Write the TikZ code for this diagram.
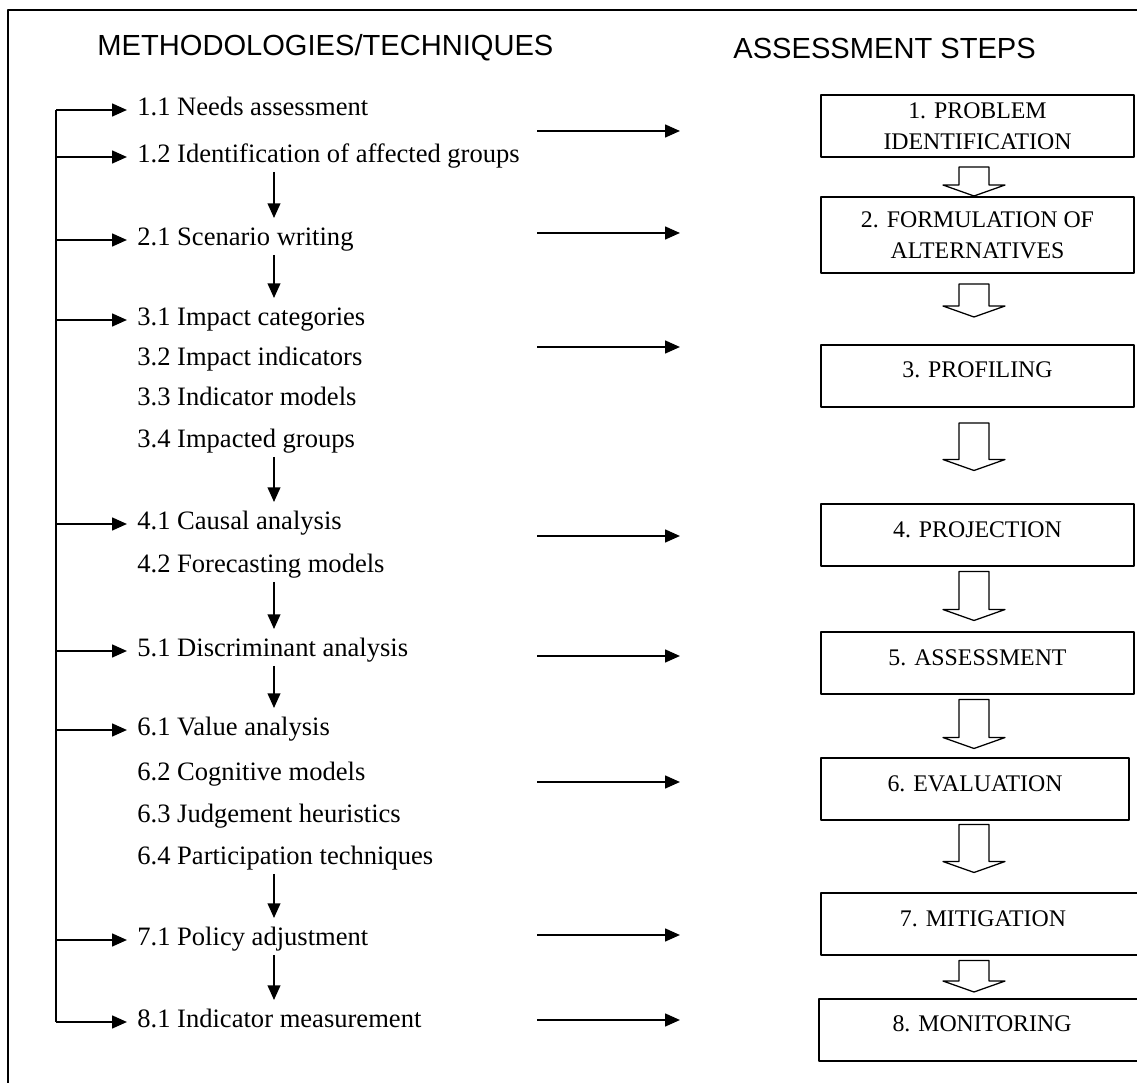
\documentclass[tikz,border=0pt]{standalone}
\usepackage{fontspec}
\setmainfont{Liberation Serif}
\setsansfont{Liberation Sans}
\usetikzlibrary{arrows.meta,calc}

\begin{document}
\begin{tikzpicture}[x=0.16667mm, y=-0.16667mm, >={Triangle[length=7pt,width=6pt]},
    line join=round, font=\fontsize{12.6}{15}\selectfont]
  \def\shaft{7.1pt} \def\head{14.7pt} \def\tip{5.2pt}
  \tikzset{
    tech/.style={right, inner xsep=4.7pt, inner ysep=0pt, text height=0.7em, text depth=0.2em},
    heading/.style={right, inner sep=0pt, font=\sffamily\fontsize{13.8}{16}\selectfont},
    stepbox/.style={draw, line width=0.95pt, inner sep=0pt, align=center, minimum width=52.17mm,
      font=\fontsize{11.3}{14.7}\selectfont},
    onestep/.style={stepbox, text height=15.65pt, text depth=13.75pt},
    hollow/.style={draw, line width=0.6pt, fill=white},
    link/.style={->, line width=0.95pt}
  }
  \useasboundingbox (0,0) rectangle (1137,1083);
  %\draw[gray!40] (0,0) grid[step=100] (1137,1083);
  \draw[line width=0.7pt] (8,1083) -- (8,10) -- (1137,10);
  \node[heading] (hmeth) at (97,48) {METHODOLOGIES/TECHNIQUES};
  \node[heading] (hstep) at (733,48) {ASSESSMENT STEPS};

  \node[tech] (t11) at (127,110) {1.1 Needs assessment};
  \node[tech] (t12) at (127,157) {1.2 Identification of affected groups};
  \node[tech] (t21) at (127,240) {2.1 Scenario writing};
  \node[tech] (t31) at (127,320) {3.1 Impact categories};
  \node[tech] (t32) at (127,360) {3.2 Impact indicators};
  \node[tech] (t33) at (127,400) {3.3 Indicator models};
  \node[tech] (t34) at (127,442) {3.4 Impacted groups};
  \node[tech] (t41) at (127,524) {4.1 Causal analysis};
  \node[tech] (t42) at (127,567) {4.2 Forecasting models};
  \node[tech] (t51) at (127,651) {5.1 Discriminant analysis};
  \node[tech] (t61) at (127,730) {6.1 Value analysis};
  \node[tech] (t62) at (127,775) {6.2 Cognitive models};
  \node[tech] (t63) at (127,817) {6.3 Judgement heuristics};
  \node[tech] (t64) at (127,859) {6.4 Participation techniques};
  \node[tech] (t71) at (127,940) {7.1 Policy adjustment};
  \node[tech] (t81) at (127,1022) {8.1 Indicator measurement};

  \coordinate (bus) at (56,0);
  \coordinate (mid) at (274,0);
  \draw[line width=0.95pt] (t11.west -| bus) -- (t81.west -| bus);
  \foreach \n in {t11,t12,t21,t31,t41,t51,t61,t71,t81}
    \draw[link] (\n.west -| bus) -- (\n.west);
  \foreach \a/\b in {t12/t21,t21/t31,t34/t41,t42/t51,t51/t61,t64/t71,t71/t81}
    \draw[link, shorten <=2.4pt, shorten >=5.7pt] (\a.south -| mid) -- (\b.north -| mid);

  \node[stepbox, minimum height=10.33mm] (b1) at (977.5,126) {1. PROBLEM\\IDENTIFICATION};
  \node[stepbox, minimum height=12.67mm] (b2) at (977.5,235) {2. FORMULATION OF\\ALTERNATIVES};
  \node[onestep] (b3) at (977.5,376) {3. PROFILING};
  \node[onestep] (b4) at (977.5,535.5) {4. PROJECTION};
  \node[onestep] (b5) at (977.5,663.5) {5. ASSESSMENT};
  \node[onestep, minimum width=51.33mm] (b6) at (975,789.5) {6. EVALUATION};
  \node[onestep, minimum width=54mm] (b7) at (983,924.5) {7. MITIGATION};
  \node[onestep, minimum width=54.33mm] (b8) at (982,1030) {8. MONITORING};

  \coordinate (ha) at (974,0);
  \foreach \a/\b/\ga/\gb in {b1/b2/9/0,b2/b3/10/27,b3/b4/15/33,b4/b5/4/11,b5/b6/4/9,b6/b7/3/20,b7/b8/4/6}
    \draw[hollow] let \p1=($(\a.south -| ha)+(0,\ga)$), \p2=($(\b.north -| ha)-(0,\gb)$) in
      (\x1-\shaft,\y1) -- (\x1-\shaft,\y2+\tip) -- (\x1-\head,\y2+\tip) -- (\x1,\y2)
      -- (\x1+\head,\y2+\tip) -- (\x1+\shaft,\y2+\tip) -- (\x1+\shaft,\y1) -- cycle;

  \foreach \y [count=\i] in {131,233,347,536,656,782,935,1020} {
    \coordinate (l\i) at (537,\y);
    \coordinate (r\i) at (680,\y);
    \draw[link] (l\i) -- (r\i);
  }
\end{tikzpicture}
\end{document}
